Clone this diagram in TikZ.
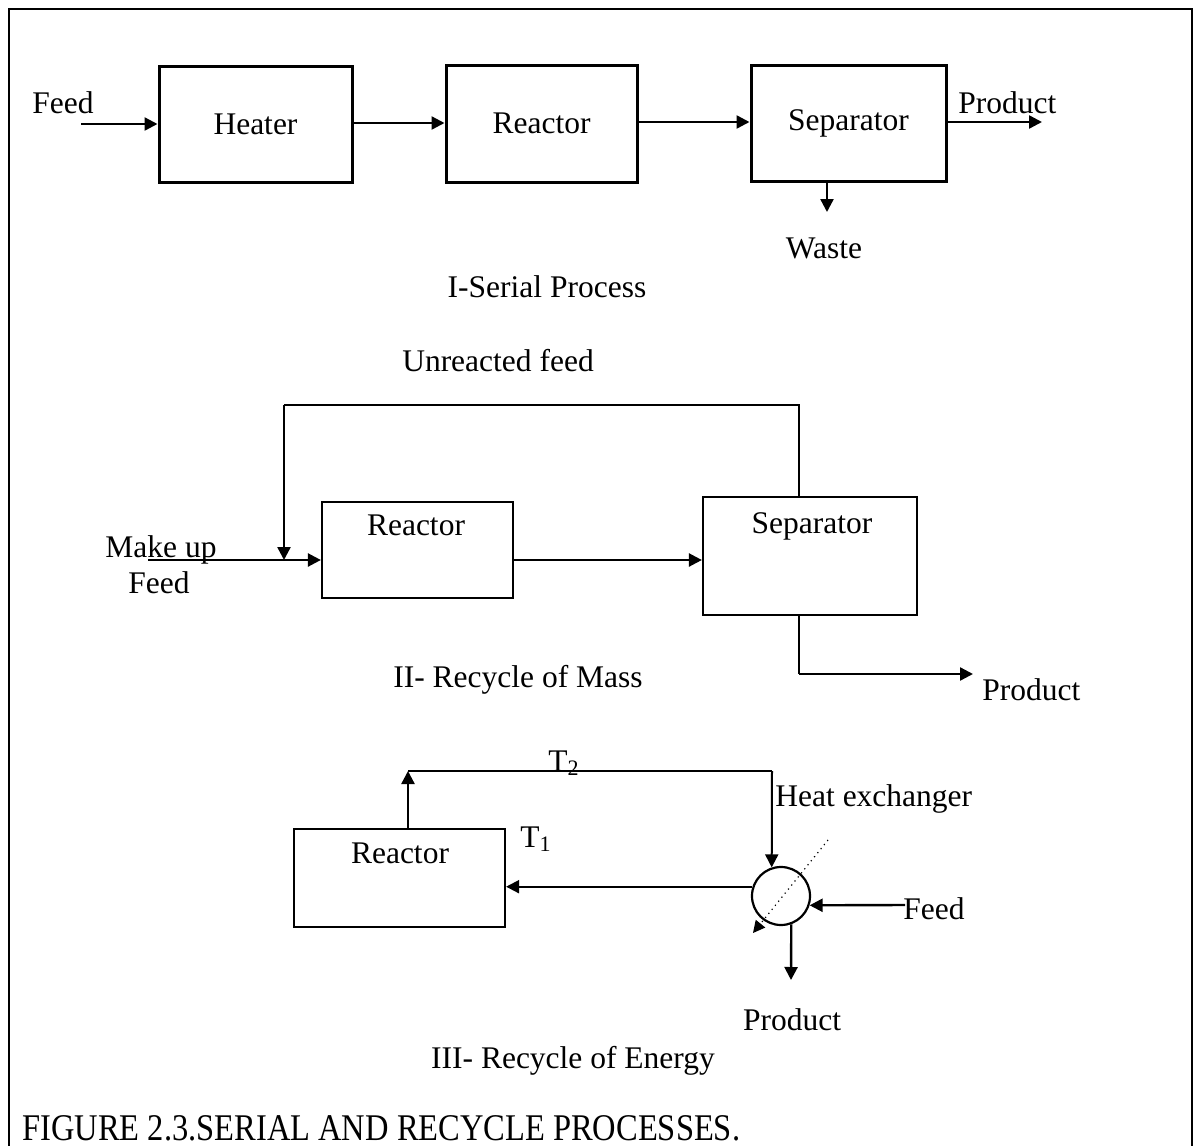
\documentclass[tikz,border=0pt]{standalone}
\usepackage{fontspec}
\usepackage{graphicx}
\setmainfont{Liberation Serif}
\usetikzlibrary{arrows.meta,calc}
\tikzset{
  lbl/.style={font=\fontsize{15.75pt}{18pt}\selectfont, inner sep=0pt},
  blk/.style={draw, line width=1.5pt, inner sep=0pt, font=\fontsize{15.75pt}{18pt}\selectfont},
  blkthin/.style={draw, line width=1.1pt, inner sep=0pt},
  flow/.style={line width=1.2pt, -{Triangle[length=6.5pt,width=6.5pt]}},
  pipe/.style={line width=1.1pt},
}
\begin{document}
\begin{tikzpicture}[x=0.5pt,y=-0.5pt]
\useasboundingbox (0,0) rectangle (1195,1146);
% outer frame (runs off the bottom of the page)
\draw[line width=1pt] (9,9) rectangle (1192,1180);

% ---------- I: serial process ----------
\node[blk, minimum width=96.5pt, minimum height=58pt] (heater) at (255.5,124) {Heater};
\node[blk, minimum width=95.5pt, minimum height=58.5pt] (reactorA) at (541.5,123.5) {Reactor};
\node[blk, minimum width=97.5pt, minimum height=58pt] (sepA) at (848.5,123) {Separator};
\node[lbl, anchor=base west] (feedA) at (32,113) {Feed};
\coordinate (feedAin) at (81,124);
\coordinate (prodAout) at (1042,122);
\coordinate (wasteAout) at (827,212);
\draw[flow] (feedAin) -- (feedAin -| heater.west);
\draw[flow] (heater.east |- 0,123) -- (reactorA.west |- 0,123);
\draw[flow] (reactorA.east |- 0,122) -- (sepA.west |- 0,122);
\draw[flow] (sepA.east |- prodAout) -- (prodAout);
\draw[flow] (wasteAout |- sepA.south) -- (wasteAout);
\node[lbl, anchor=base west] (prodA) at (958,113) {Product};
\node[lbl, anchor=base] (wasteA) at (824,258) {Waste};
\node[lbl, anchor=base] (capA) at (547,297) {I-Serial Process};

% ---------- II: recycle of mass ----------
\node[lbl, anchor=base] (unreact) at (498,371) {Unreacted feed};
\node[blkthin, minimum width=95.5pt, minimum height=48pt] (reactorB) at (417.5,550) {};
\node[lbl, anchor=base] (reactorBt) at (416,535) {Reactor};
\node[blkthin, minimum width=107pt, minimum height=59pt] (sepB) at (810,556) {};
\node[lbl, anchor=base] (sepBt) at (812,533) {Separator};
\coordinate (loopR) at (799,405);
\coordinate (loopL) at (284,405);
\coordinate (mixB) at (284,560);
\coordinate (makeup) at (148,560);
\draw[pipe] (loopR |- sepB.north) -- (loopR) -- (loopL);
\draw[flow] (loopL) -- (mixB);
\draw[flow] (makeup) -- (makeup -| reactorB.west);
\draw[flow] (reactorB.east |- makeup) -- (sepB.west |- makeup);
\coordinate (prodBcorner) at (799,674);
\coordinate (prodBout) at (973,674);
\draw[pipe] (prodBcorner |- sepB.south) -- (prodBcorner);
\draw[flow] (prodBcorner) -- (prodBout);
\node[lbl, anchor=base west] (makeupt) at (105,557) {Make up};
\node[lbl, anchor=base west] (feedB) at (128,593) {Feed};
\node[lbl, anchor=base west] (prodB) at (982,700) {Product};
\node[lbl, anchor=base] (capB) at (518,687) {II- Recycle of Mass};

% ---------- III: recycle of energy ----------
\node[blkthin, minimum width=105.5pt, minimum height=49pt] (reactorC) at (399.5,878) {};
\node[lbl, anchor=base] (reactorCt) at (400,863) {Reactor};
\node[draw, circle, line width=1.1pt, minimum size=29pt, inner sep=0pt] (hx) at (781,896) {};
\coordinate (upC) at (408,771);
\coordinate (topR) at (772,771);
\draw[flow] (reactorC.north -| upC) -- (upC);
\draw[line width=1pt] (upC) -- (topR);
\draw[line width=1pt, -{Triangle[length=6.5pt,width=6.5pt]}] (topR) -- (hx.108);
\draw[line width=1pt, -{Triangle[length=6.5pt,width=6.5pt]}] (hx.162) -- (hx.162 -| reactorC.east);
\coordinate (feedCin) at (905,905);
\draw[flow] (feedCin) -- (hx.-18);
\coordinate (prodCout) at (791,980);
\draw[flow] (hx.-70) -- (prodCout);
\coordinate (dotTop) at (828,840);
\coordinate (dotEnd) at (753,933);
\draw[line width=0.6pt, dotted, -{Triangle[length=6pt,width=6pt]}] (dotTop) -- (dotEnd);
\node[lbl, anchor=base west] (t2) at (548,771) {T\textsubscript{2}};
\node[lbl, anchor=base west] (t1) at (520,847) {T\textsubscript{1}};
\node[lbl, anchor=base west] (hxt) at (775,806) {Heat exchanger};
\node[lbl, anchor=base west] (feedC) at (903,919) {Feed};
\node[lbl, anchor=base] (prodC) at (792,1030) {Product};
\node[lbl, anchor=base] (capC) at (573,1068) {III- Recycle of Energy};

% ---------- caption ----------
\node[inner sep=0pt, font=\fontsize{16.25pt}{19pt}\selectfont, anchor=base west] (caption) at (22,1140)
  {\scalebox{1}[1.16]{FIGURE 2.3.SERIAL AND RECYCLE PROCESSES.}};
\end{tikzpicture}
\end{document}
